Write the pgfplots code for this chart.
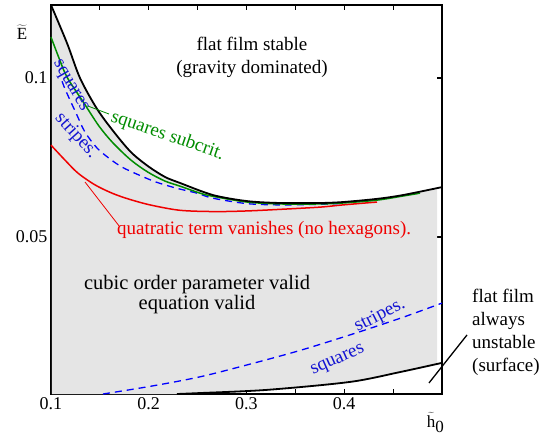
\documentclass[border=0pt]{standalone}
\usepackage{pgfplots}
\pgfplotsset{compat=1.18}
\usepackage{fontspec}
\setmainfont{Liberation Serif}
\definecolor{fillgray}{RGB}{229,229,229}
\definecolor{dgreen}{RGB}{0,140,0}
\definecolor{lred}{RGB}{240,0,0}
\definecolor{dblue}{RGB}{20,20,210}
\newcommand{\fs}{\fontsize{19bp}{21bp}\selectfont}
\newcommand{\fb}{\fontsize{20.5bp}{23bp}\selectfont}
\begin{document}
\begin{tikzpicture}
\path[use as bounding box] (-51bp,-47bp) rectangle (506bp,394bp);
\begin{axis}[
  scale only axis, width=391bp, height=389bp,
  xmin=0.1, xmax=0.5, ymin=0.0006, ymax=0.123,
  axis line style={line width=1.6bp},
  xtick={0.1,0.15,0.2,0.25,0.3,0.35,0.4,0.45},
  xticklabels={0.1,,0.2,,0.3,,0.4,},
  ytick={0.05,0.1}, yticklabels={0.05,0.1},
  major tick length=5bp,
  every tick/.style={black, line width=1.2bp},
  tick label style={font=\fontsize{18bp}{20bp}\selectfont},
  clip=false,
]
% gray region
\addplot[fill=fillgray, draw=none] coordinates {
 (0.101,0.0006) (0.101,0.1225) (0.1164,0.1110) (0.1297,0.1000) (0.1471,0.0903)
 (0.1645,0.0830) (0.1818,0.0767) (0.1992,0.0723) (0.2166,0.0689) (0.2320,0.0670)
 (0.2657,0.0632) (0.3005,0.0613) (0.3343,0.0607) (0.3752,0.0607) (0.3987,0.0610)
 (0.4335,0.0620) (0.4601,0.0632) (0.495,0.0654) (0.495,0.0100) (0.4570,0.0075)
 (0.4059,0.0044) (0.3210,0.0019) (0.2524,0.0009) (0.2289,0.0006)
};
% red: quadratic term vanishes
\addplot[lred, line width=1.5bp, smooth] coordinates {
 (0.1000,0.0789) (0.1143,0.0742) (0.1276,0.0701) (0.1450,0.0664) (0.1624,0.0638)
 (0.1788,0.0620) (0.2013,0.0601) (0.2320,0.0584) (0.2677,0.0580) (0.3005,0.0582)
 (0.3343,0.0587) (0.3752,0.0594) (0.3987,0.0601) (0.4335,0.0610)
};
% blue dashed upper
\addplot[blue, line width=1.3bp, dash pattern=on 7bp off 5bp, smooth] coordinates {
 (0.1113,0.0990) (0.1153,0.0959) (0.1256,0.0890) (0.1348,0.0830) (0.1471,0.0780)
 (0.1593,0.0748) (0.1726,0.0720) (0.1900,0.0695) (0.2074,0.0673) (0.2278,0.0654)
 (0.2493,0.0638) (0.2657,0.0622) (0.3005,0.0605) (0.3343,0.0601) (0.3752,0.0603)
 (0.3987,0.0606)
};
% green: squares subcritical
\addplot[dgreen, line width=1.5bp, smooth] coordinates {
 (0.1000,0.1129) (0.1082,0.1063) (0.1164,0.1003) (0.1338,0.0921) (0.1491,0.0849)
 (0.1634,0.0796) (0.1818,0.0742) (0.1992,0.0704) (0.2166,0.0676) (0.2320,0.0660)
 (0.2524,0.0638) (0.2657,0.0628) (0.3005,0.0610) (0.3343,0.0604) (0.3752,0.0604)
 (0.3987,0.0607) (0.4335,0.0616) (0.4601,0.0629) (0.4775,0.0638)
};
% black upper
\addplot[black, line width=1.8bp, smooth] coordinates {
 (0.1000,0.1230) (0.1164,0.1110) (0.1297,0.1000) (0.1471,0.0903) (0.1645,0.0830)
 (0.1818,0.0767) (0.1992,0.0723) (0.2166,0.0689) (0.2320,0.0670) (0.2657,0.0632)
 (0.3005,0.0613) (0.3343,0.0607) (0.3752,0.0607) (0.3987,0.0610) (0.4335,0.0620)
 (0.4601,0.0632) (0.5000,0.0657)
};
% blue dashed lower
\addplot[blue, line width=1.3bp, dash pattern=on 7bp off 5bp, smooth] coordinates {
 (0.1532,0.0006) (0.2013,0.0030) (0.2524,0.0060) (0.3036,0.0100) (0.3547,0.0143)
 (0.4059,0.0192) (0.4570,0.0244) (0.5000,0.0292)
};
% black lower
\addplot[black, line width=1.8bp, smooth] coordinates {
 (0.2289,0.0006) (0.2524,0.0009) (0.3210,0.0019) (0.4059,0.0044) (0.4570,0.0075)
 (0.5000,0.0104)
};
% pins
\draw[lred, line width=0.8bp] (axis cs:0.1348,0.0673) -- (axis cs:0.1696,0.0535);
\draw[dgreen, line width=0.8bp] (axis cs:0.1379,0.0912) -- (axis cs:0.1593,0.0887);
\draw[black, line width=1.3bp] (axis cs:0.4867,0.00408) -- (axis cs:0.5256,0.01918);
% texts
\node[anchor=base, font=\fs] at (axis cs:0.3056,0.1088) {flat film stable};
\node[anchor=base, font=\fs] at (axis cs:0.3056,0.1013) {(gravity dominated)};
\node[anchor=base, font=\fb] at (axis cs:0.2494,0.0334) {cubic order parameter valid};
\node[anchor=base, font=\fb] at (axis cs:0.2494,0.0272) {equation valid};
\node[anchor=base west, font=\fs, text=lred, inner sep=0pt] at (axis cs:0.1675,0.0509) {quatratic term vanishes (no hexagons).};
\node[anchor=base west, font=\fs, text=dgreen, inner sep=0pt, rotate=-19] at (axis cs:0.1604,0.0865) {squares subcrit.};
\node[font=\fs, text=dblue, inner sep=0pt, rotate=-60] at (axis cs:0.1194,0.0975) {squares};
\node[font=\fs, text=dblue, inner sep=0pt, rotate=-48] at (axis cs:0.1256,0.0818) {stripes.};
\node[font=\fs, text=dblue, inner sep=0pt, rotate=27] at (axis cs:0.4366,0.0252) {stripes.};
\node[font=\fs, text=dblue, inner sep=0pt, rotate=24] at (axis cs:0.3936,0.0110) {squares};
\node[anchor=base west, font=\fs, inner sep=0pt] at (axis cs:0.5307,0.02924) {flat film};
\node[anchor=base west, font=\fs, inner sep=0pt] at (axis cs:0.5307,0.0220) {always};
\node[anchor=base west, font=\fs, inner sep=0pt] at (axis cs:0.5307,0.01478) {unstable};
\node[anchor=base west, font=\fs, inner sep=0pt] at (axis cs:0.5307,0.00754) {(surface)};
\node[font=\fontsize{17bp}{19bp}\selectfont, inner sep=0pt] at (axis cs:0.0703,0.1145) {$\widetilde{\mbox{E}}$};
\node[font=\fontsize{17bp}{19bp}\selectfont, inner sep=0pt] at (axis cs:0.4935,-0.0085) {$\widetilde{\mbox{h}}_{\mbox{0}}$};
\end{axis}
\end{tikzpicture}
\end{document}
